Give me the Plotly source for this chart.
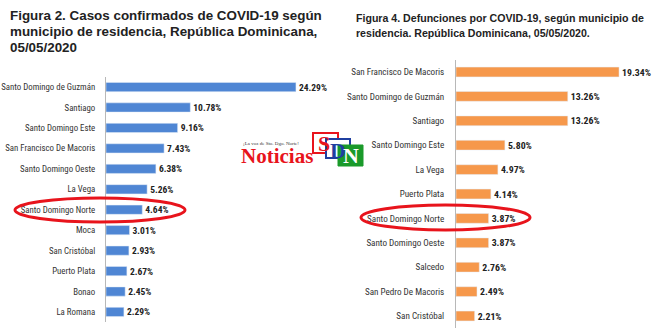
import plotly.graph_objects as go

W, H = 660, 330

# ---- data ----
casos_mun = ["Santo Domingo de Guzmán", "Santiago", "Santo Domingo Este",
             "San Francisco De Macoris", "Santo Domingo Oeste", "La Vega",
             "Santo Domingo Norte", "Moca", "San Cristóbal", "Puerto Plata",
             "Bonao", "La Romana"]
casos_pct = [24.29, 10.78, 9.16, 7.43, 6.38, 5.26, 4.64, 3.01, 2.93, 2.67, 2.45, 2.29]

def_mun = ["San Francisco De Macoris", "Santo Domingo de Guzmán", "Santiago",
           "Santo Domingo Este", "La Vega", "Puerto Plata", "Santo Domingo Norte",
           "Santo Domingo Oeste", "Salcedo", "San Pedro De Macoris", "San Cristóbal"]
def_pct = [19.34, 13.26, 13.26, 5.80, 4.97, 4.14, 3.87, 3.87, 2.76, 2.49, 2.21]

title_left = ["Figura 2. Casos confirmados de COVID-19 según",
              "municipio de residencia, República Dominicana,",
              "05/05/2020"]
title_right = ["Figura 4. Defunciones por COVID-19, según municipio de",
               "residencia. República Dominicana, 05/05/2020."]

BLUE = "#4f86d4"
ORANGE = "#f6984b"
NARROW = "Roboto Condensed, Liberation Sans, sans-serif"
TITLE_FONT = "Liberation Sans, Arial, sans-serif"

def px(x):
    return x / W

def py(y):
    return 1 - y / H

fig = go.Figure()

fig.add_trace(go.Bar(
    x=casos_pct, y=casos_mun, orientation="h", marker_color=BLUE, width=0.45,
    text=[f"{v:.2f}%" for v in casos_pct], textposition="outside",
    textfont=dict(family=NARROW, size=9.5, color="#222", weight="bold"),
    constraintext="none", cliponaxis=False, xaxis="x", yaxis="y",
))
fig.add_trace(go.Bar(
    x=def_pct, y=def_mun, orientation="h", marker_color=ORANGE, width=0.4,
    text=[f"{v:.2f}%" for v in def_pct], textposition="outside",
    textfont=dict(family=NARROW, size=9.8, color="#222", weight="bold"),
    constraintext="none", cliponaxis=False, xaxis="x2", yaxis="y2",
))

# left chart: axis at x=106, 7.82 px per %
lx0, lx1 = 106, 326
fig.update_layout(
    xaxis=dict(domain=[px(lx0), px(lx1)], range=[0, (lx1 - lx0) / 7.82],
               visible=False, automargin=False),
    yaxis=dict(domain=[py(322.2), py(76.8)], autorange="reversed",
               showline=True, linecolor="#b8b8b8", linewidth=1, ticks="",
               ticklabelstandoff=8, automargin=False,
               tickfont=dict(family=NARROW, size=8.8, color="#333"),
               anchor="x"),
)
# right chart: axis at x=456, 8.43 px per %
rx0, rx1 = 456, 652
fig.update_layout(
    xaxis2=dict(domain=[px(rx0), px(rx1)], range=[0, (rx1 - rx0) / 8.43],
                visible=False, anchor="y2", automargin=False),
    yaxis2=dict(domain=[py(328.2), py(59.8)], autorange="reversed",
                showline=True, linecolor="#b8b8b8", linewidth=1, ticks="",
                ticklabelstandoff=9, automargin=False,
                tickfont=dict(family=NARROW, size=9.1, color="#333"),
                anchor="x2"),
)

tfont_l = dict(family=TITLE_FONT, size=13.4, color="#222", weight="bold")
tfont_r = dict(family=TITLE_FONT, size=10.6, color="#222", weight="bold")

def ann(text, x, y, font, xanchor="left"):
    return dict(text=text, x=px(x), y=py(y), xref="paper", yref="paper",
                xanchor=xanchor, yanchor="middle", showarrow=False, font=font)

annotations = []
for i, line in enumerate(title_left):
    annotations.append(ann(line, 8, 16 + i * 15.5, tfont_l))
for i, line in enumerate(title_right):
    annotations.append(ann(line, 354, 18 + i * 15, tfont_r))

# logo
annotations.append(ann("¡La voz de Sto. Dgo. Norte!", 241, 144,
                       dict(family="Liberation Serif, serif", size=5, color="#333")))
annotations.append(ann("Noticias", 239, 156,
                       dict(family="Liberation Serif, serif", size=21,
                            color="#e8141c", weight="bold")))
shapes = [
    dict(type="rect", xref="paper", yref="paper", x0=px(313), x1=px(338),
         y0=py(153), y1=py(133), line=dict(color="#e8141c", width=2),
         fillcolor="white"),
    dict(type="rect", xref="paper", yref="paper", x0=px(326), x1=px(350),
         y0=py(158), y1=py(139), line=dict(color="#1f3fa0", width=2),
         fillcolor="white"),
    dict(type="rect", xref="paper", yref="paper", x0=px(338), x1=px(363),
         y0=py(166), y1=py(145), line=dict(color="#1a9a2a", width=1),
         fillcolor="#1a9a2a"),
]
for ch, cx, cy, col in [("S", 324, 144, "#e8141c"), ("D", 338, 150, "#1f3fa0"),
                        ("N", 351, 156, "white")]:
    annotations.append(ann(ch, cx, cy,
                           dict(family="Liberation Serif, serif", size=22,
                                color=col, weight="bold"), xanchor="center"))

# red hand-drawn style ellipses
shapes += [
    dict(type="circle", xref="paper", yref="paper", x0=px(15), x1=px(185),
         y0=py(222), y1=py(198), line=dict(color="#e8141c", width=3)),
    dict(type="circle", xref="paper", yref="paper", x0=px(361), x1=px(530),
         y0=py(230), y1=py(205), line=dict(color="#e8141c", width=3)),
]

fig.update_layout(
    width=W, height=H, margin=dict(l=0, r=0, t=0, b=0, autoexpand=False),
    paper_bgcolor="white", plot_bgcolor="white", showlegend=False,
    annotations=annotations, shapes=shapes,
)

fig.write_html("out.html")
